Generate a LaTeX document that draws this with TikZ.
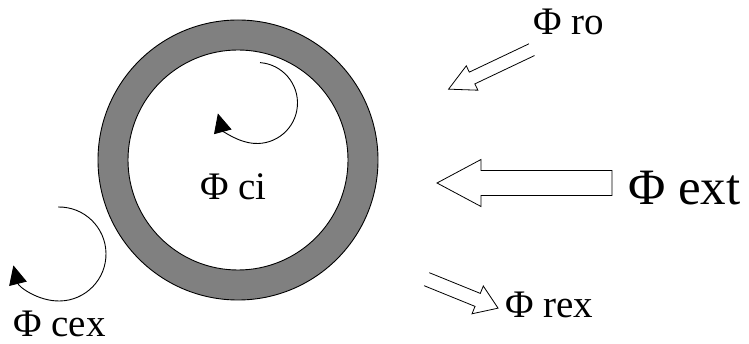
\documentclass[tikz,border=0pt]{standalone}
\usepackage{fontspec}
\setmainfont{Liberation Serif}
\newfontfamily\timesfont{Liberation Serif}
\usetikzlibrary{arrows.meta}
\definecolor{ringgray}{RGB}{128,128,128}

\begin{document}
\begin{tikzpicture}[
        x=1pt, y=-1pt,
        ring/.style={circle, draw, line width=0.9pt, inner sep=0pt, outer sep=0pt},
        flux/.style={draw, line width=0.8pt, line join=miter},
        curl/.style={line width=0.9pt, -{Triangle[length=19pt, width=18pt]}},
        fluxlabel/.style={anchor=base west, inner sep=0pt, font=\timesfont\fontsize{39}{41}\selectfont},
    ]
    \useasboundingbox (0,0) rectangle (749,344);

    % the tube wall
    \node[ring, fill=ringgray, minimum size=280pt] (wall) at (238,160) {};
    \node[ring, fill=white, minimum size=220pt] (bore) at (wall.center) {};

    % circulating fluxes
    \coordinate (ci curl) at (257,103);
    \coordinate (cex curl) at (59,254);
    \draw[curl] (ci curl) ++(85.7:40.5pt) arc[start angle=85.7, end angle=-165, radius=40.5pt];
    \draw[curl] (cex curl) ++(91:47pt) arc[start angle=91, end angle=-166, radius=47pt];

    \node[fluxlabel] (ci) at (200,200) {Φ ci};
    \node[fluxlabel] (cex) at (13,336) {Φ cex};
    \node[fluxlabel] (ro) at (533,35) {Φ ro};
    \node[fluxlabel] (rex) at (505,317) {Φ rex};
    \node[fluxlabel, font=\timesfont\fontsize{51}{53}\selectfont] (ext) at (628,205) {Φ ext};

    % incoming and outgoing fluxes
    \coordinate (ext tip) at (437,183);
    \coordinate (ro tail) at (531.7,49.7);
    \coordinate (rex tail) at (426.7,279.2);
    \draw[flux] (ext tip) -- ++(44,-23.5) -- ++(0,11) -- ++(131,0) -- ++(0,25)
        -- ++(-131,0) -- ++(0,11) -- cycle;
    \begin{scope}[shift={(ro tail)}, rotate=205.4]
        \draw[flux] (0,-6.5) -- (66,-6.5) -- (66,-13.5) -- (92,0) -- (66,13.5) -- (66,6.5) -- (0,6.5);
    \end{scope}
    \begin{scope}[shift={(rex tail)}, rotate=-22.1]
        \draw[flux] (0,-7) -- (55,-7) -- (55,-15) -- (77,0) -- (55,15) -- (55,7) -- (0,7);
    \end{scope}
\end{tikzpicture}
\end{document}
